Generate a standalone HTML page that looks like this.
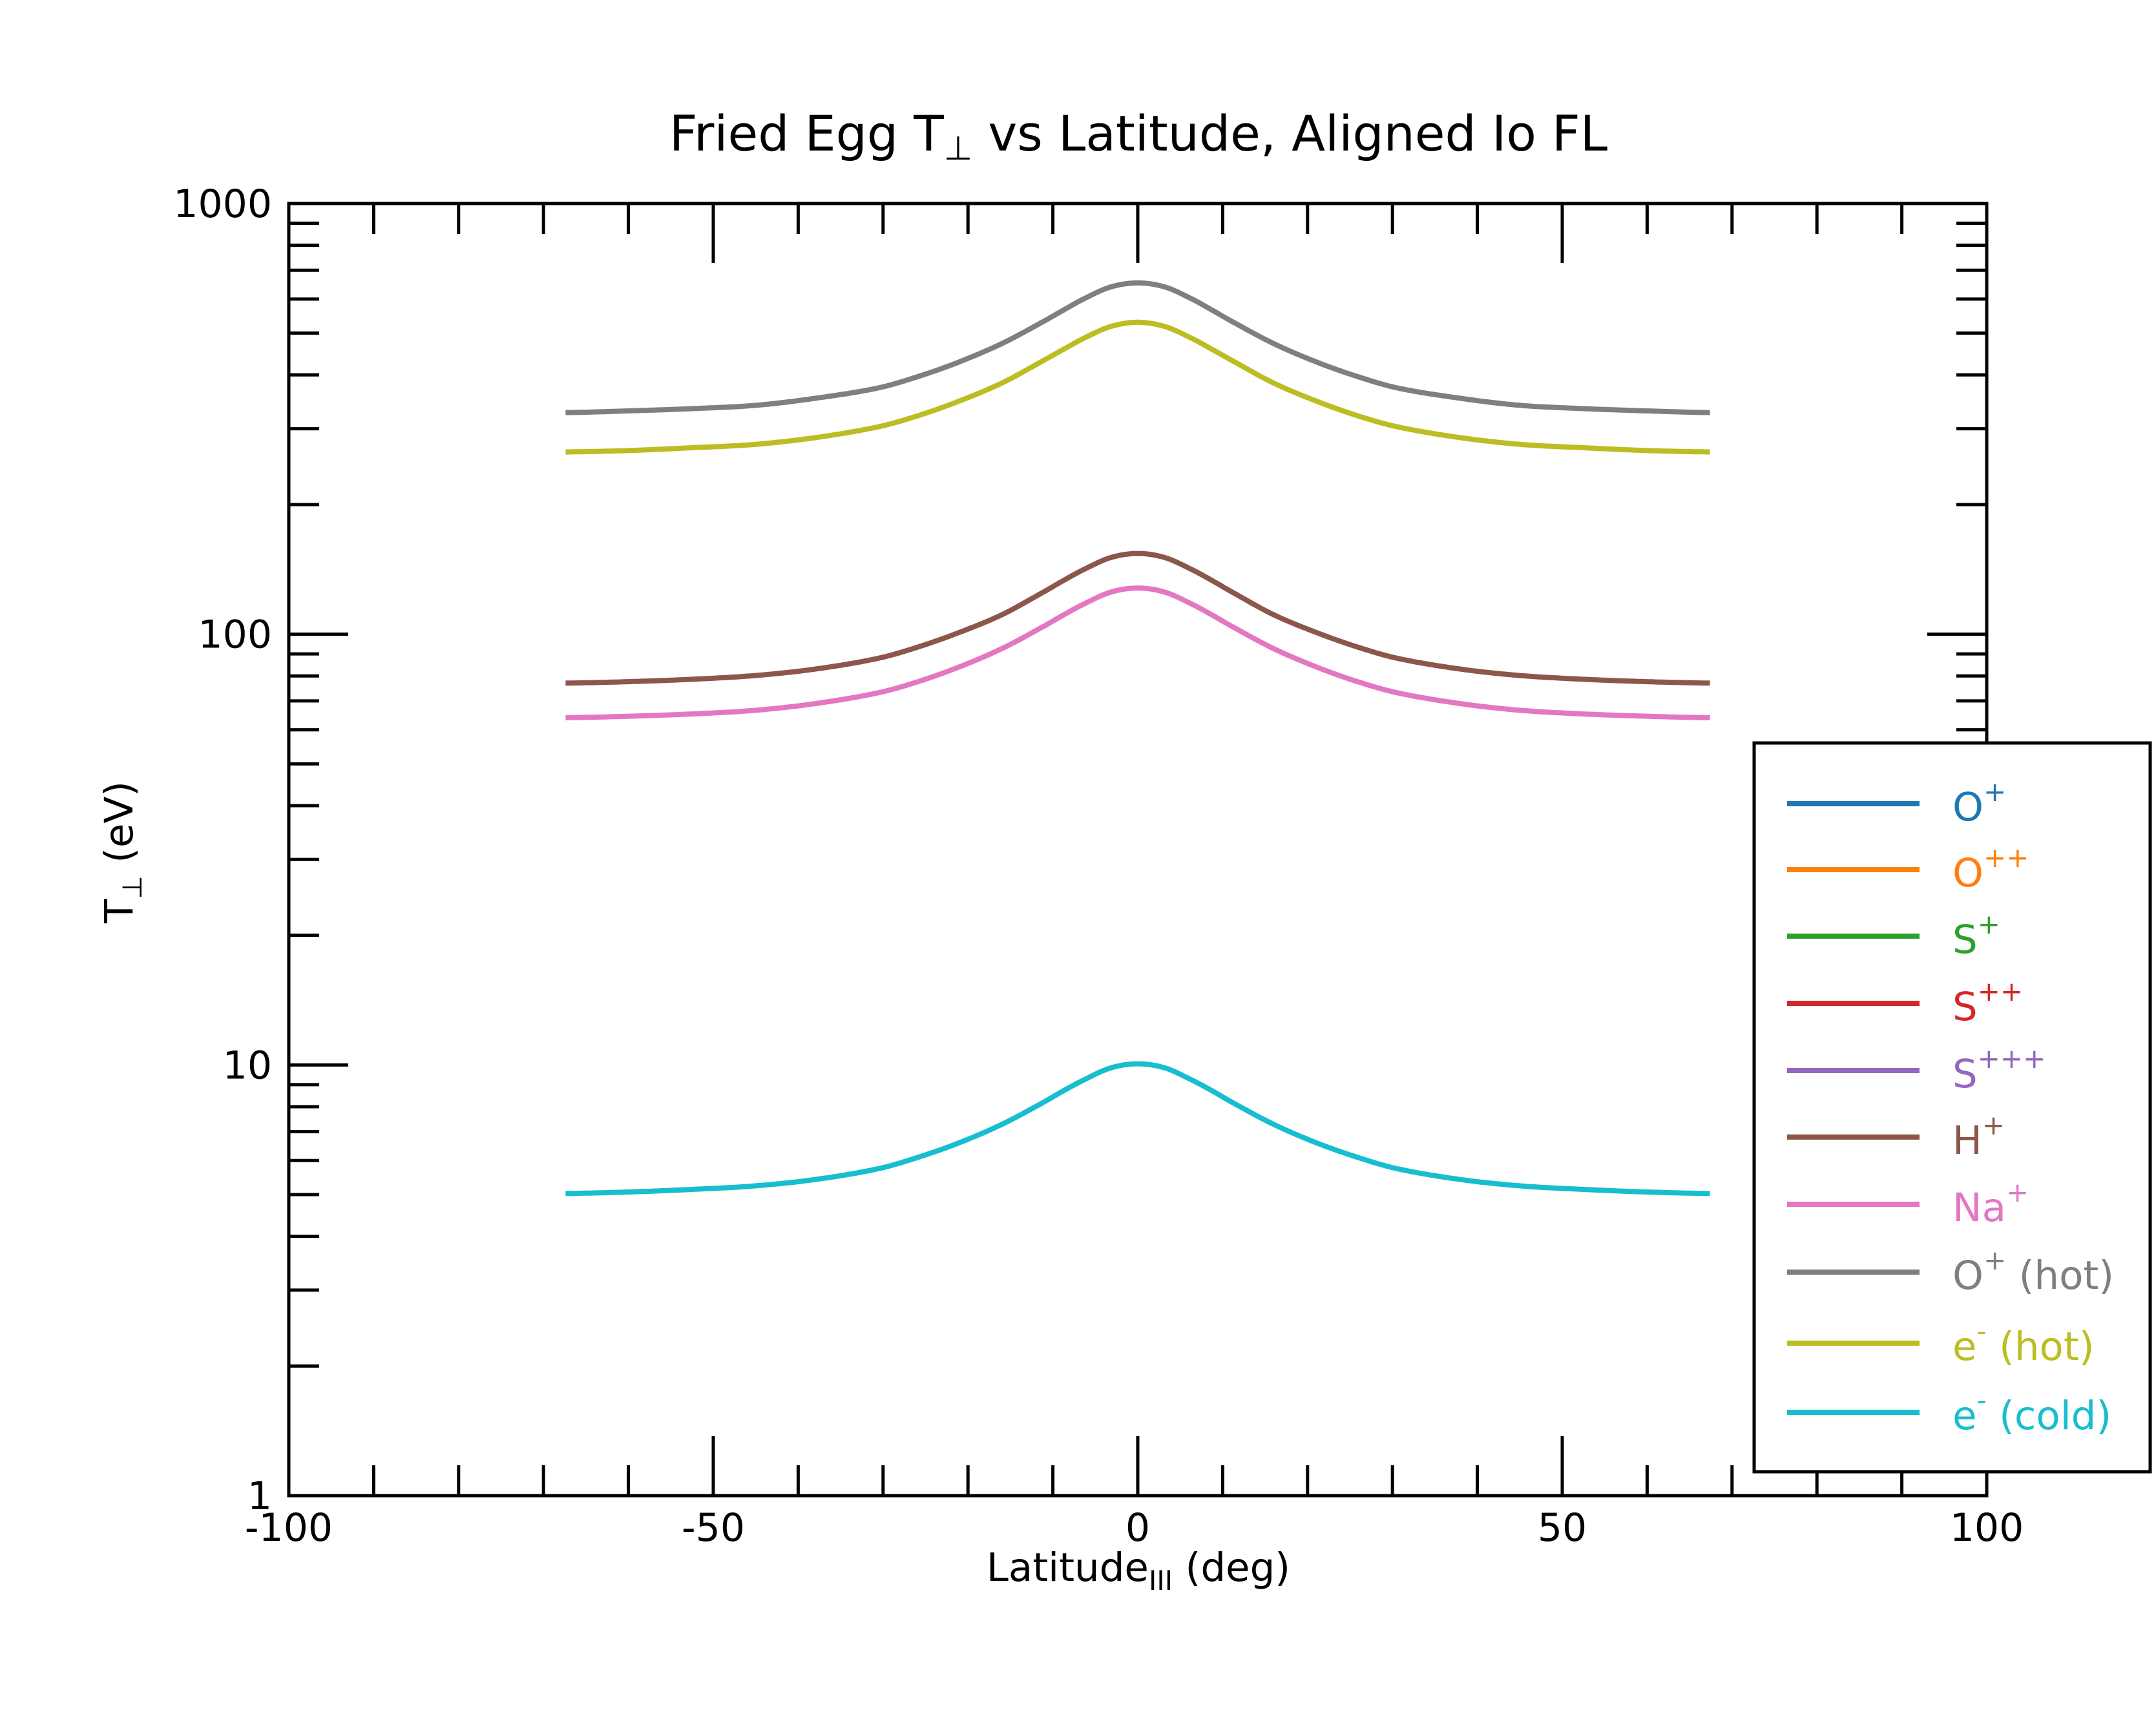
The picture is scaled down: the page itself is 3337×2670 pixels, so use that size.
<!DOCTYPE html>
<html><head><meta charset="utf-8"><style>
html,body{margin:0;padding:0;background:#fff;}
svg{display:block;font-family:"DejaVu Sans","Liberation Sans",sans-serif;}
</style></head><body>
<svg id="chart" width="3337" height="2670" viewBox="0 0 3337 2670" xmlns="http://www.w3.org/2000/svg">
<rect x="0" y="0" width="3337" height="2670" fill="#fff"/>
<text x="1762" y="233" font-size="76" text-anchor="middle">Fried Egg T<tspan font-size="51" dy="14">⊥</tspan><tspan dy="-14"> vs Latitude, Aligned Io FL</tspan></text>
<g id="series"></g>
<g id="axes"></g>
<text x="1762" y="2447" font-size="61" text-anchor="middle">Latitude<tspan font-size="42" dy="14">III</tspan><tspan dy="-14"> (deg)</tspan></text>
<text transform="translate(205,1319) rotate(-90)" font-size="61" text-anchor="middle">T<tspan font-size="42" dy="14">⊥</tspan><tspan dy="-14"> (eV)</tspan></text>
<g id="legend"></g>
</svg>
<script>
const lats = [-67.4,-60,-52.5,-45,-38,-30.6,-25.8,-21,-16,-11.2,-8.8,-6.4,-3.2,0,3.2,6.4,8.8,11.2,16,21,25.8,30.6,38,45,52.5,60,67.4];
const oHot = [327,330,334,340,353,373,397,429,473,531,565,600,640,654,640,600,565,531,473,429,397,373,353,340,334,330,327];
const eHot = [265,267,271,276,286,303,322,348,383,431,458,486,518,530,518,486,458,431,383,348,322,303,286,276,271,267,265];
const hPlus = [77,77.6,78.6,80.2,83.0,87.9,93.5,101,111,125,133.1,141.2,150.6,154,150.6,141.2,133.1,125,111,101,93.5,87.9,83.0,80.2,78.6,77.6,77];
const naPlus = [64,64.5,65.3,66.6,69.0,73.1,77.7,84.0,92.6,104,110.7,117.4,125.2,128,125.2,117.4,110.7,104,92.6,84.0,77.7,73.1,69.0,66.6,65.3,64.5,64];
const eCold = [5.03,5.07,5.14,5.24,5.42,5.74,6.11,6.60,7.28,8.17,8.70,9.22,9.84,10.06,9.84,9.22,8.70,8.17,7.28,6.60,6.11,5.74,5.42,5.24,5.14,5.07,5.03];
const xTicks = [-100,-50,0,50,100];
const xTickLabels = ["-100","-50","0","50","100"];
const yTicks = [1,10,100,1000];
const yTickLabels = ["1","10","100","1000"];
const legendLabels = [["O","+",""],["O","++",""],["S","+",""],["S","++",""],["S","+++",""],["H","+",""],["Na","+",""],["O","+"," (hot)"],["e","-"," (hot)"],["e","-"," (cold)"]];
const colors = ["#1f77b4","#ff7f0e","#2ca02c","#d62728","#9467bd","#8c564b","#e377c2","#7f7f7f","#bcbd22","#17becf"];

const L=447,R=3075,T=315,B=2315;
const NS="http://www.w3.org/2000/svg";
function X(v){return L+(v+100)/200*(R-L);}
function Y(v){return B-Math.log10(v)/3*(B-T);}
function mk(tag,attrs,parent){const e=document.createElementNS(NS,tag);for(const k in attrs)e.setAttribute(k,attrs[k]);parent.appendChild(e);return e;}
const sg=document.getElementById('series');
function curve(vals){
  const xs=lats, ys=vals.map(v=>Math.log10(v)), n=xs.length;
  const m=[];
  for(let i=0;i<n;i++){
    if(i===0)m[i]=(ys[1]-ys[0])/(xs[1]-xs[0])*0.5;
    else if(i===n-1)m[i]=(ys[n-1]-ys[n-2])/(xs[n-1]-xs[n-2])*0.5;
    else m[i]=(ys[i+1]-ys[i-1])/(xs[i+1]-xs[i-1]);
  }
  const pts=[];
  for(let i=0;i<n-1;i++){
    const h=xs[i+1]-xs[i],steps=24;
    for(let s=0;s<steps;s++){
      const t=s/steps,t2=t*t,t3=t2*t;
      const y=(2*t3-3*t2+1)*ys[i]+(t3-2*t2+t)*h*m[i]+(-2*t3+3*t2)*ys[i+1]+(t3-t2)*h*m[i+1];
      pts.push([X(xs[i]+t*h),Y(Math.pow(10,y))]);
    }
  }
  pts.push([X(xs[n-1]),Y(vals[n-1])]);
  return "M"+pts.map(p=>p[0].toFixed(1)+","+p[1].toFixed(1)).join(" L");
}
const seriesList=[[oHot,colors[7],'o-plus-hot-line'],[eHot,colors[8],'e-hot-line'],[hPlus,colors[5],'h-plus-line'],[naPlus,colors[6],'na-plus-line'],[eCold,colors[9],'e-cold-line']];
seriesList.forEach(s=>{
  const el=mk('path',{d:curve(s[0]),fill:'none',stroke:s[1],'stroke-width':8,'stroke-linejoin':'round'},sg);
  
  
});
const ax=document.getElementById('axes');
const frame=mk('rect',{x:L,y:T,width:R-L,height:B-T,fill:'none',stroke:'#000','stroke-width':5},ax);


for(let v=-90;v<=90;v+=10){
  const len=(v%50===0)?92:47;
  const x=X(v);
  mk('line',{x1:x,x2:x,y1:B,y2:B-len,stroke:'#000','stroke-width':5},ax);
  mk('line',{x1:x,x2:x,y1:T,y2:T+len,stroke:'#000','stroke-width':5},ax);
}
for(let d=0;d<3;d++){
  for(let m=1;m<=9;m++){
    const v=Math.pow(10,d)*m;
    if(m===1&&d===0)continue;
    const len=(m===1)?92:47;
    const y=Y(v);
    mk('line',{x1:L,x2:L+len,y1:y,y2:y,stroke:'#000','stroke-width':5},ax);
    mk('line',{x1:R,x2:R-len,y1:y,y2:y,stroke:'#000','stroke-width':5},ax);
  }
}
xTicks.forEach((v,i)=>{
  const t=mk('text',{x:X(v),y:2385,'font-size':60,'text-anchor':'middle'},ax);
  t.textContent=xTickLabels[i];
  
  
});
yTicks.forEach((v,i)=>{
  const t=mk('text',{x:421,y:Y(v)+21,'font-size':60,'text-anchor':'end'},ax);
  t.textContent=yTickLabels[i];
  
  
});
const lg=document.getElementById('legend');
const box=mk('rect',{x:2715,y:1150,width:613,height:1128,fill:'#fff',stroke:'#000','stroke-width':5},lg);


const ly=[1244,1346,1449,1553,1657,1760,1864,1969,2079,2186];
legendLabels.forEach((lab,i)=>{
  const g=mk('g',{},lg);
  
  
  mk('line',{x1:2766,x2:2971,y1:ly[i],y2:ly[i],stroke:colors[i],'stroke-width':8},g);
  const t=mk('text',{x:3022,y:ly[i]+26,'font-size':61,fill:colors[i]},g);
  const a=mk('tspan',{},t);a.textContent=lab[0];
  const b=mk('tspan',{'font-size':42,dy:-30},t);b.textContent=lab[1];
  if(lab[2]){const c=mk('tspan',{dy:30},t);c.textContent=lab[2];}
});
</script>
</body></html>
